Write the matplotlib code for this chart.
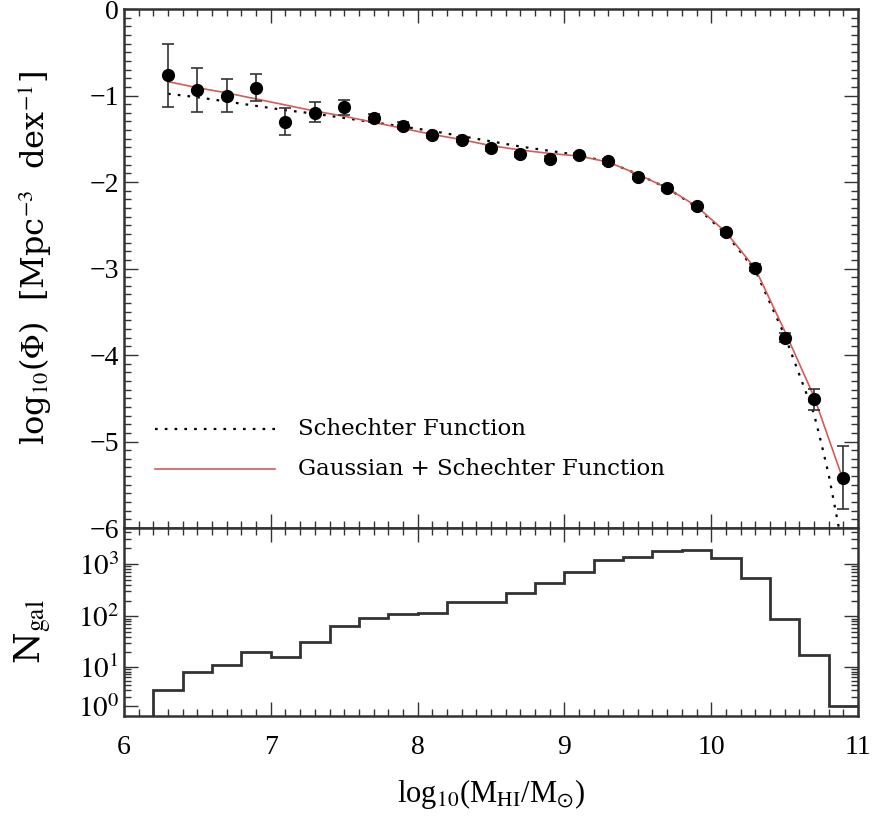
import numpy as np
import matplotlib
matplotlib.use("Agg")
import matplotlib.pyplot as plt
from matplotlib.ticker import FixedLocator, MultipleLocator, NullFormatter, FixedFormatter

plt.rcParams['font.family'] = ['Liberation Serif', 'DejaVu Serif']
plt.rcParams['mathtext.fontset'] = 'stix'

# ---- data: HI mass function points ----
logM = [6.3, 6.5, 6.7, 6.9, 7.1, 7.3, 7.5, 7.7, 7.9, 8.1, 8.3, 8.5,
        8.7, 8.9, 9.1, 9.3, 9.5, 9.7, 9.9, 10.1, 10.3, 10.5, 10.7, 10.9]
logPhi = [-0.76, -0.94, -1.01, -0.91, -1.31, -1.20, -1.13, -1.26, -1.35, -1.46, -1.51, -1.61,
          -1.68, -1.73, -1.69, -1.76, -1.94, -2.07, -2.28, -2.58, -2.99, -3.80, -4.51, -5.42]
err_up = [0.36, 0.26, 0.20, 0.16, 0.16, 0.12, 0.08, 0.05, 0.04, 0.03, 0.03, 0.03,
          0.03, 0.03, 0.03, 0.03, 0.03, 0.03, 0.03, 0.03, 0.04, 0.05, 0.12, 0.37]
err_lo = [0.37, 0.25, 0.18, 0.15, 0.15, 0.11, 0.09, 0.05, 0.04, 0.03, 0.03, 0.03,
          0.03, 0.03, 0.03, 0.03, 0.03, 0.03, 0.03, 0.03, 0.04, 0.05, 0.13, 0.36]

# ---- fitted curves ----
fit_x = [6.3, 6.5, 6.7, 6.9, 7.1, 7.3, 7.5, 7.7, 7.9, 8.1, 8.3, 8.5, 8.7, 8.9,
         9.1, 9.3, 9.5, 9.7, 9.9, 10.1, 10.3, 10.5, 10.7, 10.9]
gauss_schechter = [-0.84, -0.91, -0.97, -1.04, -1.11, -1.18, -1.24, -1.31, -1.38, -1.45, -1.51, -1.58,
                   -1.63, -1.67, -1.70, -1.77, -1.91, -2.07, -2.28, -2.58, -3.00, -3.72, -4.48, -5.45]
schech_x = [6.3, 6.5, 6.7, 6.9, 7.1, 7.3, 7.5, 7.7, 7.9, 8.1, 8.3, 8.5, 8.7, 8.9,
            9.1, 9.3, 9.5, 9.7, 9.9, 10.1, 10.3, 10.5, 10.7, 10.75, 10.8, 10.87]
schechter = [-0.98, -1.02, -1.07, -1.12, -1.17, -1.21, -1.26, -1.31, -1.36, -1.41, -1.47, -1.53,
             -1.59, -1.64, -1.69, -1.77, -1.91, -2.07, -2.29, -2.60, -3.02, -3.77, -4.68, -5.02, -5.38, -6.0]

# ---- histogram of galaxy counts ----
bin_edges = [6.0, 6.2, 6.4, 6.6, 6.8, 7.0, 7.2, 7.4, 7.6, 7.8, 8.0, 8.2, 8.4,
             8.6, 8.8, 9.0, 9.2, 9.4, 9.6, 9.8, 10.0, 10.2, 10.4, 10.6, 10.8, 11.0]
Ngal = [0, 3, 8, 11, 20, 16, 32, 65, 92, 109, 116, 189, 192,
        284, 441, 714, 1190, 1341, 1792, 1848, 1318, 535, 90, 18, 1]

legend_labels = ["Schechter Function", "Gaussian + Schechter Function"]

W, H = 890, 822
fig = plt.figure(figsize=(W / 100, H / 100), dpi=100)
L, R = 124 / W, 858 / W
ax1 = fig.add_axes([L, 1 - 528 / H, R - L, (528 - 9) / H])
ax2 = fig.add_axes([L, 1 - 716 / H, R - L, (716 - 528) / H], sharex=ax1)

red = '#d65a5a'
dots = (0, (1.2, 3.2))

# top panel
ax1.plot(schech_x, schechter, color='black', ls=dots, lw=1.6, zorder=2)
ax1.plot(fit_x, gauss_schechter, color=red, lw=1.2, zorder=3)
ax1.errorbar(logM, logPhi, yerr=[err_lo, err_up], fmt='o', color='black', ms=8.5,
             ecolor='#333333', elinewidth=1.2, capsize=4, capthick=1.2, zorder=4)
ax1.set_xlim(6, 11)
ax1.set_ylim(-6.0, 0.0)
ax1.yaxis.set_minor_locator(MultipleLocator(0.1))
ax1.xaxis.set_major_locator(MultipleLocator(1))
ax1.xaxis.set_minor_locator(MultipleLocator(0.1))
ax1.tick_params(labelbottom=False)
ax1.set_yticks([0, -1, -2, -3, -4, -5, -6])
ax1.set_yticklabels(['0', '\u22121', '\u22122', '\u22123', '\u22124', '\u22125', '\u22126'])
ax1.set_ylabel(r'log$_{10}$($\Phi$)  [Mpc$^{-3}$  dex$^{-1}$]', fontsize=23,
               family='DejaVu Serif')
ax1.yaxis.set_label_coords((54 - 124) / (858 - 124), 0.52)

# legend drawn as lines + text in axes coords
lx0, lx1 = (155 - 124) / (858 - 124), (275 - 124) / (858 - 124)
ly1 = 1 - (429 - 9) / (528 - 9)
ly2 = 1 - (469 - 9) / (528 - 9)
ax1.plot([lx0, lx1], [ly1, ly1], transform=ax1.transAxes, color='black', ls=dots, lw=1.6)
ax1.plot([lx0, lx1], [ly2, ly2], transform=ax1.transAxes, color=red, lw=1.2)
tx = (298 - 124) / (858 - 124)
ax1.text(tx, ly1, legend_labels[0], transform=ax1.transAxes, va='center', ha='left',
         fontsize=16.5, family='DejaVu Serif')
ax1.text(tx, ly2, legend_labels[1], transform=ax1.transAxes, va='center', ha='left',
         fontsize=16.5, family='DejaVu Serif')

# bottom panel: histogram on a log10(N+1) axis
fwd = lambda n: np.log10(np.asarray(n, dtype=float) + 1.0)
inv = lambda y: 10.0 ** np.asarray(y, dtype=float) - 1.0
ax2.set_yscale('function', functions=(fwd, inv))
ax2.stairs(Ngal, bin_edges, color='#333333', lw=2.0, baseline=None)
ax2.set_ylim(0.29, 4840)
ax2.yaxis.set_major_locator(FixedLocator([1, 10, 100, 1000]))
ax2.yaxis.set_major_formatter(FixedFormatter([r'$10^0$', r'$10^1$', r'$10^2$', r'$10^3$']))
minors = [m * 10 ** k for k in range(0, 4) for m in range(2, 10) if m * 10 ** k < 4800]
ax2.yaxis.set_minor_locator(FixedLocator(minors))
ax2.yaxis.set_minor_formatter(NullFormatter())
ax2.set_xticks([6, 7, 8, 9, 10, 11])
ax2.set_xticklabels(['6', '7', '8', '9', '10', '11'])
ax2.set_xlabel(r'log$_{10}$(M$_{\rm HI}$/M$_{\odot}$)', fontsize=22, labelpad=12)
ax2.set_ylabel(r'N$_{\rm gal}$', fontsize=26, family='DejaVu Serif')
ax2.yaxis.set_label_coords((54 - 124) / (858 - 124), 0.45)

for ax in (ax1, ax2):
    ax.tick_params(which='both', direction='in', top=True, right=True, labelsize=20,
                   color='#333333', width=1.0)
    ax.tick_params(which='major', length=10)
    ax.tick_params(which='minor', length=5)
    for s in ax.spines.values():
        s.set_linewidth(1.8)
        s.set_color('#333333')
ax2.tick_params(axis='x', pad=14)
ax2.tick_params(axis='y', labelsize=21)

fig.savefig('out.png', dpi=100)
